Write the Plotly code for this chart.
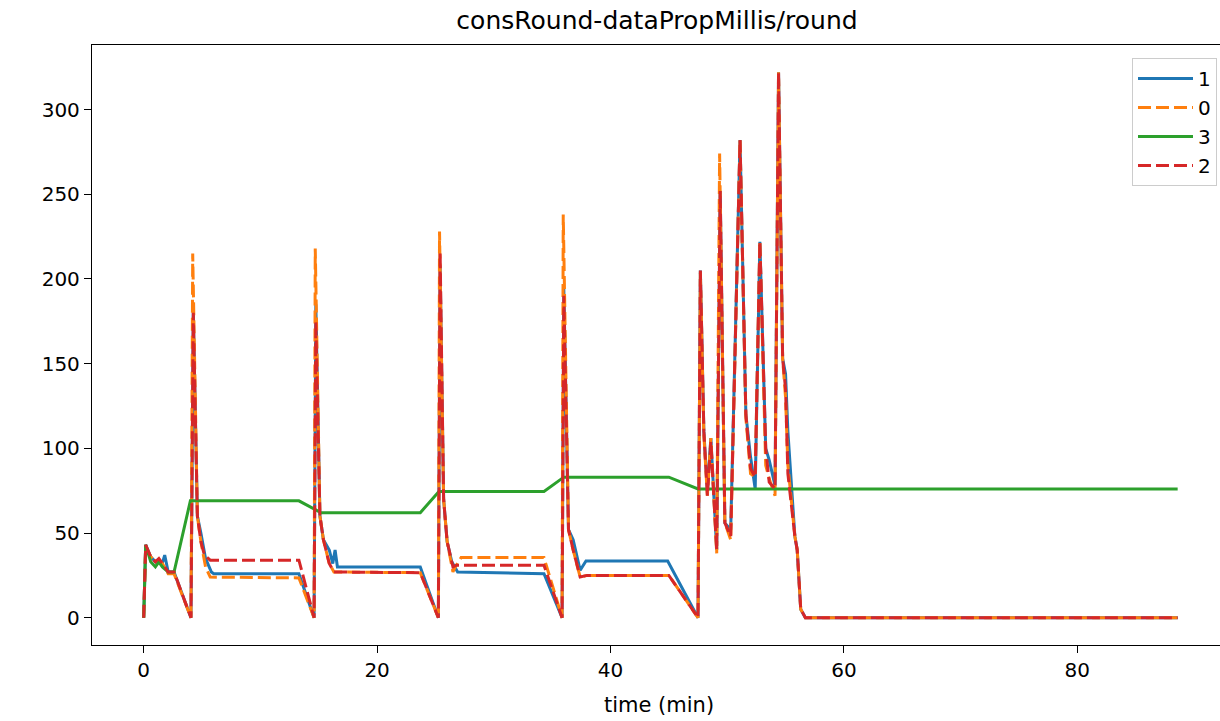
import plotly.graph_objects as go

# ---- data (time in minutes, value in ms/round) ----
t_1 = [0, 0.17, 0.6, 1.0, 1.3, 1.55, 1.8, 2.1, 2.6, 4.05, 4.25, 4.6, 4.9, 5.3, 5.8, 6.0, 13.3,
       14.6, 14.75, 15.1, 15.4, 15.9, 16.2, 16.4, 16.6, 23.7,
       25.25, 25.4, 25.7, 26.0, 26.4, 26.9, 34.3,
       35.85, 36.0, 36.4, 36.8, 37.4, 37.9, 44.9,
       47.5, 47.7, 48.0, 48.3, 48.6, 49.1, 49.4, 49.8, 50.3, 51.1, 51.6, 52.0, 52.4, 52.8,
       53.3, 53.6, 54.1, 54.4, 54.75, 55.0, 55.2, 55.8, 56.0, 56.3, 56.7, 88.6]
v_1 = [0, 43, 36, 33, 34, 31, 37, 27, 27, 0, 180, 60, 50, 35, 27, 26, 26,
       0, 185, 60, 46, 40, 32, 40, 30, 30,
       0, 208, 70, 45, 33, 27, 26,
       0, 194, 52, 46, 28, 33.5, 33.5,
       0, 205, 110, 75, 106, 40, 252, 56, 52, 282, 120, 95, 76, 222,
       100, 93, 78, 322, 153, 144, 110, 48, 40, 5, 0, 0]

t_0 = [0, 0.17, 0.6, 1.0, 1.3, 1.6, 2.1, 2.6, 4.05, 4.2, 4.6, 4.9, 5.3, 5.7, 13.3,
       14.6, 14.7, 15.1, 15.4, 15.9, 16.3, 23.7,
       25.25, 25.35, 25.7, 26.0, 26.5, 26.7, 27.2, 34.3,
       35.85, 35.95, 36.4, 36.8, 37.4, 38.0, 45.0,
       47.5, 47.7, 48.0, 48.3, 48.6, 49.1, 49.35, 49.8, 50.3, 51.1, 51.6, 52.0, 52.4, 52.8,
       53.3, 53.6, 54.1, 54.4, 54.75, 55.0, 55.2, 55.8, 56.0, 56.3, 56.7, 88.6]
v_0 = [0, 42, 36, 33, 34, 32, 26, 26, 0, 215, 60, 45, 30, 24, 23.5,
       0, 218, 60, 46, 32, 27, 26.6,
       0, 228, 70, 45, 27, 30, 35.5, 35.5,
       0, 238, 52, 40, 24, 25, 25,
       0, 205, 108, 72, 106, 38, 274, 56, 46, 282, 118, 85, 83, 222,
       90, 82, 72, 322, 153, 130, 90, 48, 40, 5, 0, 0]

t_3 = [0, 0.17, 0.6, 1.0, 1.3, 1.6, 2.1, 2.6, 4.0, 13.3, 15.2, 23.7, 25.3, 34.3, 36.0,
       45.0, 47.5, 88.6]
v_3 = [0, 43, 33, 30, 33, 30, 27, 27, 69, 69, 62, 62, 74.5, 74.5, 83, 83, 76, 76]

t_2 = [0, 0.17, 0.6, 1.0, 1.3, 1.6, 2.1, 2.6, 4.05, 4.25, 4.6, 4.9, 5.2, 5.7, 13.3,
       14.6, 14.75, 15.1, 15.4, 15.9, 16.3, 23.7,
       25.25, 25.4, 25.7, 26.0, 26.5, 26.8, 34.3,
       35.85, 36.0, 36.4, 36.8, 37.4, 38.0, 45.0,
       47.5, 47.7, 48.0, 48.3, 48.6, 49.1, 49.4, 49.8, 50.3, 51.1, 51.6, 52.0, 52.4, 52.8,
       53.3, 53.6, 54.1, 54.4, 54.75, 55.0, 55.2, 55.8, 56.0, 56.3, 56.7, 88.6]
v_2 = [0, 43, 36, 33, 35, 32, 27, 27, 0, 180, 60, 45, 37, 34, 34,
       0, 175, 60, 46, 32, 27, 26.6,
       0, 216, 70, 45, 30, 31, 31,
       0, 190, 52, 40, 24, 25, 25,
       0, 205, 110, 72, 104, 40, 252, 56, 48, 282, 120, 88, 83, 222,
       100, 80, 76, 322, 153, 135, 85, 48, 40, 5, 0, 0]

x_ticks = [0, 20, 40, 60, 80]
y_ticks = [0, 50, 100, 150, 200, 250, 300]
title_text = "consRound-dataPropMillis/round"
x_label = "time (min)"

FONT = "DejaVu Sans, sans-serif"
# the original axes run past the right edge of the 1220px picture
W, H = 1300, 721
PLOT_W = W - 92
LW = 3
DASH = "13px,5px"

fig = go.Figure()
fig.add_trace(go.Scatter(x=t_1, y=v_1, name="1", mode="lines", legendgroup="a",
                         line=dict(color="#1f77b4", width=LW)))
fig.add_trace(go.Scatter(x=t_0, y=v_0, name="0", mode="lines", legendgroup="b",
                         line=dict(color="#ff7f0e", width=LW, dash=DASH)))
fig.add_trace(go.Scatter(x=t_3, y=v_3, name="3", mode="lines", legendgroup="c",
                         line=dict(color="#2ca02c", width=LW)))
fig.add_trace(go.Scatter(x=t_2, y=v_2, name="2", mode="lines", legendgroup="d",
                         line=dict(color="#d62728", width=LW, dash=DASH)))

fig.update_layout(
    width=W, height=H,
    margin=dict(l=92, r=0, t=45, b=76),
    paper_bgcolor="white", plot_bgcolor="white",
    font=dict(family=FONT, size=20, color="black"),
    title=dict(text=title_text, x=(657 - 92) / PLOT_W, xref="paper", xanchor="center",
               y=1 - 20 / H, yref="container", yanchor="middle",
               font=dict(size=25, family=FONT, color="black")),
    showlegend=True,
    legend=dict(x=(1217 - 92) / PLOT_W, y=(645 - 58) / 600, xanchor="right", yanchor="top",
                bgcolor="rgba(255,255,255,0.8)", bordercolor="#cccccc", borderwidth=1,
                font=dict(size=20, family=FONT), tracegroupgap=0, itemwidth=55),
    annotations=[dict(text=x_label, x=(659 - 92) / PLOT_W, xref="paper", xanchor="center",
                      y=-(705 - 645) / 600, yref="paper", yanchor="middle",
                      showarrow=False, font=dict(size=21, family=FONT, color="black"))],
)
fig.update_xaxes(range=[-4.43, -4.43 + PLOT_W / 11.67], tickvals=x_ticks,
                 ticktext=[str(v) for v in x_ticks],
                 showgrid=False, zeroline=False, showline=True, linecolor="black", linewidth=1.3,
                 mirror=True, ticks="outside", ticklen=7, tickwidth=1.3, tickcolor="black",
                 tickfont=dict(size=20))
fig.update_yaxes(range=[-16.1, 338.1], tickvals=y_ticks, ticktext=[str(v) for v in y_ticks],
                 showgrid=False, zeroline=False, showline=True, linecolor="black", linewidth=1.3,
                 mirror=False, ticks="outside", ticklen=7, tickwidth=1.3, tickcolor="black",
                 tickfont=dict(size=20))

fig.write_html("out.html", config={"displayModeBar": False},
               post_script="document.body.style.margin='0px';"
                           "document.body.style.overflow='hidden';")
